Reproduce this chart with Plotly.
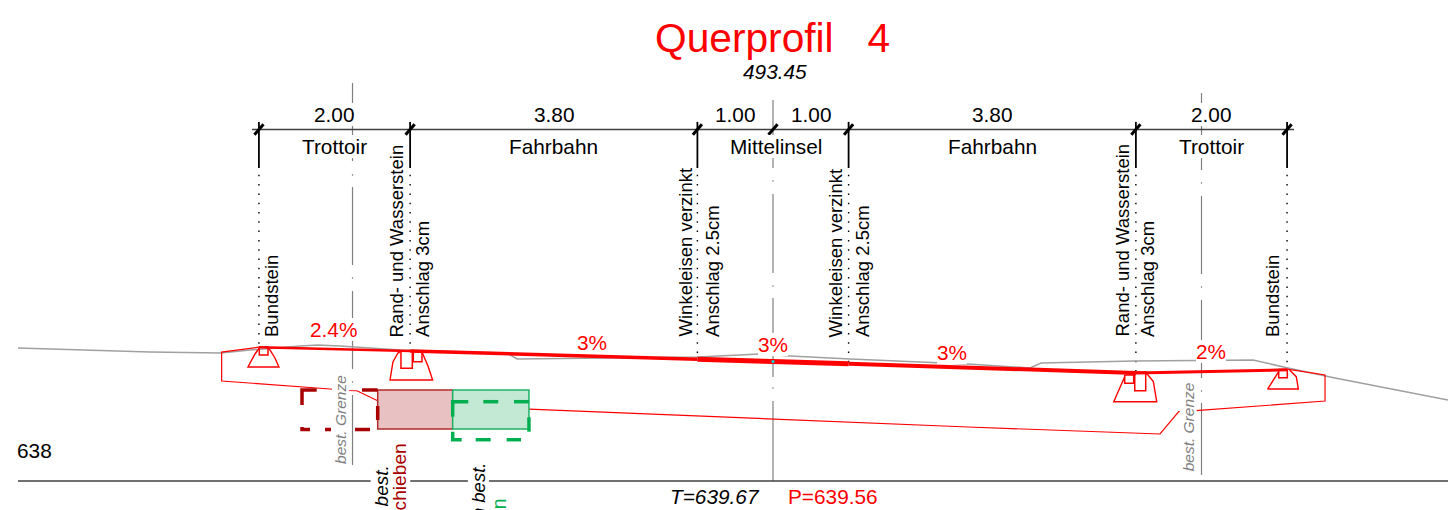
import plotly.graph_objects as go

# ---- survey data: offset from centre line (m) and elevation (m a.s.l.) ----
X_RANGE = [-10.2249, 8.9286]
Y_RANGE = [637.6164, 644.3624]

stations = [-6.80, -4.80, -1.00, 0.00, 1.00, 4.80, 6.80]
design_elev = [639.77, 639.72, 639.61, 639.58, 639.55, 639.43, 639.47]
surface_widths = [2.5, 3.5, 5, 5, 4, 3]

ground_x = [-9.987, -8.241, -7.302, -6.918, -6.257, -6.019, -5.728, -4.934, -3.519, -3.386, -1.005,
            -0.172, 0.225, 1.019, 1.945, 2.579, 3.400, 3.545, 4.789, 6.349, 6.812, 7.434, 8.929]
ground_y = [639.759, 639.706, 639.693, 639.733, 639.786, 639.799, 639.786, 639.733, 639.693, 639.614, 639.640,
            639.680, 639.654, 639.614, 639.574, 639.548, 639.495, 639.561, 639.587, 639.601, 639.495, 639.362, 639.071]

base_left_x = [-6.80, -7.293, -7.293, -5.860, -5.635, -5.503, -5.229]
base_left_y = [639.77, 639.706, 639.323, 639.217, 639.197, 639.194, 639.062]
base_right_x = [-3.228, 2.579, 5.119, 5.367, 5.595, 7.302, 7.302, 6.80]
base_right_y = [638.952, 638.714, 638.622, 638.917, 638.930, 639.058, 639.402, 639.48]

curb_outlines = [
    ([-6.795, -6.852, -6.945, -6.535, -6.588, -6.654, -6.680],
     [639.759, 639.680, 639.508, 639.508, 639.627, 639.733, 639.759]),
    ([-4.908, -4.961, -5.027, -5.066, -4.502, -4.564, -4.643],
     [639.720, 639.693, 639.574, 639.336, 639.336, 639.521, 639.706]),
    ([4.652, 4.507, 5.076, 5.031, 4.961, 4.930],
     [639.380, 639.049, 639.049, 639.314, 639.402, 639.422]),
    ([6.689, 6.544, 6.949, 6.922, 6.832],
     [639.446, 639.217, 639.217, 639.380, 639.468]),
]
curb_blocks = [  # x0, x1, top, bottom
    (-6.795, -6.680, 639.773, 639.667),
    (-4.921, -4.771, 639.720, 639.491),
    (-4.758, -4.643, 639.710, 639.578),
    (4.652, 4.771, 639.402, 639.292),
    (4.785, 4.930, 639.442, 639.194),
    (6.689, 6.803, 639.475, 639.366),
]

pipe_old = (-5.229, -4.237, 639.204, 638.688)
pipe_new = (-4.237, -3.228, 639.204, 638.688)

dash_red_x = [-6.036, -6.230, -6.230, None, -6.230, -6.230, -6.125, None, -5.926, -5.847, None,
              -5.529, -5.331, None, -5.229, -5.229, None, -5.229, -5.437]
dash_red_y = [639.204, 639.204, 639.005, None, 638.714, 638.681, 638.681, None, 638.681, 638.681, None,
              638.681, 638.681, None, 638.992, 638.807, None, 639.204, 639.204]
dash_green_x = [-4.237, -4.237, -4.031, None, -3.832, -3.634, None, -3.426, -3.228, None,
                -3.228, -3.228, None, -4.237, -4.237, -4.118, None, -3.933, -3.734, None, -3.523, -3.333]
dash_green_y = [638.851, 639.049, 639.049, None, 639.049, 639.049, None, 639.049, 639.049, None,
                638.843, 638.652, None, 638.652, 638.546, 638.546, None, 638.546, 638.546, None, 638.546, 638.546]

axis_segments = [
    (-5.562, [(643.265, 642.233), (642.058, 642.038), (641.889, 640.857), (640.695, 640.675),
              (640.513, 639.482), (639.32, 639.30), (639.138, 638.212)]),
    (0.00, [(643.04, 642.14), (641.978, 641.958), (641.796, 640.751), (640.589, 640.569),
            (640.421, 639.376), (639.24, 639.22), (639.058, 638.0)]),
    (5.668, [(643.132, 642.114), (641.952, 641.932), (641.77, 640.738), (640.576, 640.556),
             (640.394, 639.362), (639.20, 639.18), (639.032, 638.079)]),
]

DIM_ELEV = 642.65
DIM_SPAN = [-6.892, 6.892]
BASE_ELEV = 638.0
BASE_SPAN = [-9.987, 8.929]

title_text = "Querprofil\u00a0\u00a0\u00a04"
station_label = "493.45"
width_labels = [("2.00", -5.807), ("3.80", -2.897), ("1.00", -0.503), ("1.00", 0.503), ("3.80", 2.897), ("2.00", 5.794)]
zone_labels = [("Trottoir", -5.794), ("Fahrbahn", -2.910), ("Mittelinsel", 0.04), ("Fahrbahn", 2.897), ("Trottoir", 5.794)]
element_labels = [("Bundstein", -6.627), ("Rand- und Wasserstein", -4.987), ("Anschlag 3cm", -4.630),
                  ("Winkeleisen verzinkt", -1.164), ("Anschlag 2.5cm", -0.794),
                  ("Winkeleisen verzinkt", 0.833), ("Anschlag 2.5cm", 1.191),
                  ("Rand- und Wasserstein", 4.617), ("Anschlag 3cm", 4.961), ("Bundstein", 6.614)]
slope_labels = [("2.4%", -5.820, 640.01), ("3%", -2.395, 639.835), ("3%", 0.0, 639.80),
                ("3%", 2.368, 639.70), ("2%", 5.794, 639.71)]

RED = "#ff0000"
DARK_RED = "#a80000"
GREEN = "#00b050"
GREY = "#808080"
FONT = "Liberation Sans"
TEXT = 20.8

fig = go.Figure()


def line(x, y, color, width, dash=None, **kw):
    fig.add_trace(go.Scatter(x=x, y=y, mode="lines", hoverinfo="skip",
                             line=dict(color=color, width=width, dash=dash, simplify=False), **kw))


# centre / boundary axes
for ax_x, segs in axis_segments:
    xs, ys = [], []
    for a, b in segs:
        xs += [ax_x, ax_x, None]
        ys += [a, b, None]
    line(xs, ys, GREY, 1.2)

# dimension chain
line(DIM_SPAN, [DIM_ELEV, DIM_ELEV], "#404040", 1.6)
line([BASE_SPAN[0], BASE_SPAN[1]], [BASE_ELEV, BASE_ELEV], "#404040", 1.6)
for s, e in zip(stations, design_elev):
    if s != 0:
        line([s, s], [DIM_ELEV + 0.10, 642.14], "#000000", 1.8)
        line([s, s], [642.05, e], "#000000", 1.4, dash="1.5px,7.8px")
    line([s - 0.06, s + 0.06], [DIM_ELEV - 0.07, DIM_ELEV + 0.07], "#000000", 3)

# existing ground
line(ground_x, ground_y, "#a0a0a0", 1.5)

# structure
line(base_left_x, base_left_y, RED, 1.2)
line(base_right_x, base_right_y, RED, 1.2)
for cx, cy in curb_outlines:
    line(cx, cy, RED, 1.4)
for x0, x1, top, bottom in curb_blocks:
    line([x0, x1, x1, x0, x0], [top, top, bottom, bottom, top], RED, 1.5)

# pipes
for (x0, x1, top, bottom), fill, edge in [(pipe_old, "#e8c2c2", "#b22a2a"), (pipe_new, "#c3e9d4", "#1fb265")]:
    line([x0, x1, x1, x0, x0], [top, top, bottom, bottom, top], edge, 1.5, fill="toself", fillcolor=fill)
line(dash_red_x, dash_red_y, DARK_RED, 3.5)
line(dash_green_x, dash_green_y, GREEN, 3.5)

# finished surface
for i, w in enumerate(surface_widths):
    line(stations[i:i + 2], design_elev[i:i + 2], RED, w)

# centre point
fig.add_trace(go.Scatter(x=[stations[3]], y=[design_elev[3]], mode="markers", hoverinfo="skip",
                         marker=dict(color="#00e0e0", size=3)))


def label(text, x, y, size=TEXT, color="#000000", italic=False, bg=False, angle=0, xanchor="center", yanchor="middle"):
    fig.add_annotation(text=text, x=x, y=y, xref="x", yref="y", showarrow=False, textangle=angle,
                       xanchor=xanchor, yanchor=yanchor, borderpad=0, borderwidth=0,
                       bgcolor="#ffffff" if bg else "rgba(0,0,0,0)",
                       font=dict(family=FONT, size=size, color=color, style="italic" if italic else "normal"))


label(title_text, -0.013, 643.86, size=40.7, color=RED)
label(station_label, 0.02, 643.423, italic=True)
for t, x in width_labels:
    label(t, x, 642.853, bg=True)
for t, x in zone_labels:
    label(t, x, 642.42, bg=True)
for t, x in element_labels:
    label(t, x, 639.905, size=18.5, angle=-90, yanchor="bottom")
for t, x, y in slope_labels:
    label(t, x, y, color=RED, bg=True)
label("T=639.67", -0.767, 637.79, italic=True)
label("P=639.56", 0.794, 637.79, color=RED)
label("638", -9.763, 638.40)
label("best. Grenze", -5.728, 638.82, size=15.5, color=GREY, italic=True, bg=True, angle=-90)
label("best. Grenze", 5.490, 638.71, size=15.5, color=GREY, italic=True, bg=True, angle=-90)
label("best.", -5.185, 638.20, size=19, italic=True, bg=True, angle=-90, yanchor="top")
label("verschieben", -4.934, 638.50, size=19.2, color=DARK_RED, bg=True, angle=-90, yanchor="top")
label("n best.", -3.902, 638.25, size=18.5, italic=True, bg=True, angle=-90, yanchor="top")
label("en", -3.624, 637.775, size=19.5, color=GREEN, angle=-90, yanchor="top")

hidden = dict(visible=False, fixedrange=True)
fig.update_layout(
    width=1448, height=510, margin=dict(l=0, r=0, t=0, b=0), showlegend=False,
    paper_bgcolor="#ffffff", plot_bgcolor="#ffffff",
    xaxis=dict(range=X_RANGE, **hidden), yaxis=dict(range=Y_RANGE, **hidden),
)
fig.write_html("out.html", config=dict(displayModeBar=False),
               post_script="document.body.style.margin='0';document.body.style.overflow='hidden';")
